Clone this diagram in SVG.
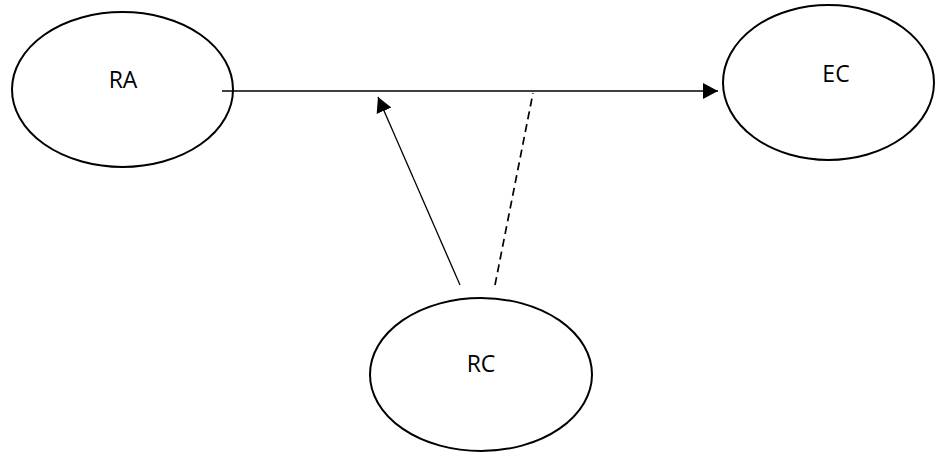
<svg xmlns="http://www.w3.org/2000/svg" width="936" height="452" viewBox="0 0 936 452">
<style>
.node{fill:#fff;stroke:#000;stroke-width:2}
.lbl{font-family:"Open Sans","Liberation Sans",sans-serif;font-size:23px;fill:#000;text-anchor:middle}
.edge{stroke:#000;stroke-width:1.3;fill:none}
.dash{stroke-width:1.7;stroke-dasharray:8,5}
</style>
<defs>
<marker id="ah" markerWidth="16" markerHeight="16" refX="15" refY="8" orient="auto" markerUnits="userSpaceOnUse">
<path d="M0,0 L15,8 L0,16 Z" fill="#000"/>
</marker>
</defs>
<g id="RA"><ellipse class="node" cx="122.5" cy="89.5" rx="110.5" ry="77.5"/><text class="lbl" x="123" y="87.5">RA</text></g>
<g id="EC"><ellipse class="node" cx="828.5" cy="82.5" rx="105.5" ry="77.5"/><text class="lbl" x="836" y="81.5">EC</text></g>
<g id="RC"><ellipse class="node" cx="481" cy="374.5" rx="111" ry="76.5"/><text class="lbl" x="481" y="371.5">RC</text></g>
<g id="connectors">
<line class="edge" x1="222" y1="91" x2="718" y2="91" marker-end="url(#ah)"/>
<line class="edge" x1="460" y1="285" x2="378" y2="97" marker-end="url(#ah)"/>
<line class="edge dash" x1="495" y1="285" x2="533" y2="93"/>
</g>
</svg>
